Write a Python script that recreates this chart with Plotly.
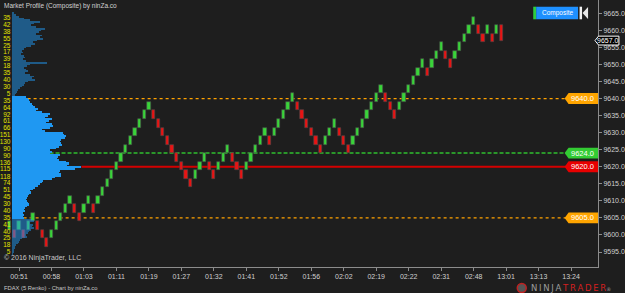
import plotly.graph_objects as go

# ---------------- DATA ----------------
brick_open = [9601.5, 9601.5, 9601.5, 9601.5, 9601.5, 9604, 9604, 9601.5, 9599, 9599,
              9601.5, 9604, 9606.5, 9609, 9609, 9606.5, 9606.5, 9609, 9609, 9609,
              9611.5, 9614, 9616.5, 9619, 9621.5, 9624, 9626.5, 9629, 9631.5, 9634,
              9636.5, 9636.5, 9634, 9631.5, 9629, 9626.5, 9624, 9621.5, 9619, 9616.5,
              9616.5, 9619, 9621.5, 9621.5, 9619, 9619, 9621.5, 9624, 9624, 9621.5,
              9619, 9619, 9621.5, 9624, 9626.5, 9629, 9629, 9629, 9631.5, 9634,
              9636.5, 9639, 9639, 9636.5, 9634, 9631.5, 9629, 9626.5, 9626.5, 9629,
              9631.5, 9631.5, 9629, 9626.5, 9626.5, 9629, 9631.5, 9634, 9636.5, 9639,
              9641.5, 9641.5, 9639, 9636.5, 9636.5, 9639, 9641.5, 9644, 9646.5, 9649,
              9649, 9649, 9651.5, 9654, 9654, 9651.5, 9651.5, 9654, 9656.5, 9659,
              9661.5, 9661.5, 9659, 9659, 9659, 9659, 9661.5]
brick_close = [9604, 9599, 9604, 9599, 9604, 9606.5, 9601.5, 9599, 9596.5, 9601.5,
               9604, 9606.5, 9609, 9611.5, 9606.5, 9604, 9609, 9611.5, 9606.5, 9611.5,
               9614, 9616.5, 9619, 9621.5, 9624, 9626.5, 9629, 9631.5, 9634, 9636.5,
               9639, 9634, 9631.5, 9629, 9626.5, 9624, 9621.5, 9619, 9616.5, 9614,
               9619, 9621.5, 9624, 9619, 9616.5, 9621.5, 9624, 9626.5, 9621.5, 9619,
               9616.5, 9621.5, 9624, 9626.5, 9629, 9631.5, 9626.5, 9631.5, 9634, 9636.5,
               9639, 9641.5, 9636.5, 9634, 9631.5, 9629, 9626.5, 9624, 9629, 9631.5,
               9634, 9629, 9626.5, 9624, 9629, 9631.5, 9634, 9636.5, 9639, 9641.5,
               9644, 9639, 9636.5, 9634, 9639, 9641.5, 9644, 9646.5, 9649, 9651.5,
               9646.5, 9651.5, 9654, 9656.5, 9651.5, 9649, 9654, 9656.5, 9659, 9661.5,
               9664, 9659, 9656.5, 9661.5, 9656.5, 9661.5, 9657]

time_labels = ["00:51", "00:58", "01:03", "01:11", "01:19", "01:27", "01:32", "01:41",
               "01:52", "01:56", "02:02", "02:19", "02:22", "02:31", "02:48", "13:01",
               "13:13", "13:24"]

# market profile (volume per 0.5-point row, from top price downward)
profile_top = 9665.0
profile_tick = 0.5
profile_volume = [2, 4, 7, 12, 18, 28, 22, 19, 24, 33,
                  29, 27, 24, 30, 28, 31, 25, 21, 23, 19,
                  14, 12, 10, 11, 9, 12, 13, 11, 14, 35,
                  18, 15, 12, 14, 16, 13, 18, 22, 20, 23,
                  16, 13, 12, 10, 8, 6, 5, 4, 3,
                  14, 16, 17, 18, 20, 21, 23, 26, 24, 30,
                  38, 36, 33, 40, 37, 34, 40, 41, 38, 30,
                  33, 52, 53, 55, 54, 50, 48, 49, 51, 47,
                  44, 38, 40, 38, 48, 46, 45, 47, 55, 58,
                  56, 70, 64, 48, 47, 50, 49, 43, 40, 31,
                  30, 28, 26, 23, 21, 18, 19, 17, 16, 15,
                  14, 15, 16, 17, 15, 13, 12, 13, 11, 12, 11, 12,
                  20, 22, 18, 21, 20, 22, 19, 17, 16, 14,
                  15, 10, 8, 7, 6, 4, 3, 3, 2, 2, 1]
value_area_high = 9640.5
value_area_low = 9605.0

count_prices = [9663.5, 9661.5, 9659.5, 9657.4, 9655.4, 9653.4, 9651.4, 9649.4, 9647.3, 9645.3,
                9643.3, 9641.3, 9639.3, 9637.2, 9635.2, 9633.2, 9631.2, 9629.2, 9627.1, 9625.1,
                9623.1, 9621.1, 9619.1, 9617.0, 9615.0, 9613.0, 9611.0, 9609.0, 9606.9, 9604.9,
                9602.9, 9600.9, 9598.9, 9596.8, 9594.8]
count_values = [35, 42, 38, 55, 25, 17, 39, 18, 35, 40, 30, 5, 35, 64, 92, 61, 66, 151,
                130, 90, 90, 136, 115, 118, 74, 51, 45, 30, 40, 35, 41, 40, 25, 18, 5]

level_prices = [9640.0, 9624.0, 9620.0, 9605.0]
level_colors = ["#ffa200", "#2fbf2f", "#d40000", "#ffa200"]
level_tag_colors = ["#ffa500", "#33cc33", "#e80000", "#ffa500"]
level_dash = ["dot", "4px,2px", "solid", "dot"]
level_width = [1.2, 1.5, 2, 1.2]
last_price = 9657.0

# ---------------- FIGURE ----------------
n = len(brick_open)
xs = list(range(n))
heights = [c - o for o, c in zip(brick_open, brick_close)]
bcolors = ["#3ad43a" if c > o else "#e81414" for o, c in zip(brick_open, brick_close)]

prof_prices = [profile_top - profile_tick * i for i in range(len(profile_volume))]
prof_colors = ["#1f98f2" if value_area_low <= p <= value_area_high else "rgba(31,152,242,0.5)"
               for p in prof_prices]
vol_at = dict(zip(prof_prices, profile_volume))

fig = go.Figure()
fig.add_trace(go.Bar(x=xs, y=heights, base=brick_open, width=0.7,
                     marker=dict(color=bcolors, line=dict(color="#4a4a4a", width=0.6)),
                     hoverinfo="skip"))
fig.add_trace(go.Bar(x=profile_volume, y=prof_prices, orientation="h", width=profile_tick,
                     xaxis="x2", yaxis="y", base=0,
                     marker=dict(color=prof_colors, line=dict(width=0)), hoverinfo="skip"))
fig.add_trace(go.Scatter(x=[-1.2] * len(count_prices), y=count_prices, xaxis="x2", yaxis="y",
                         mode="text", text=[str(v) for v in count_values],
                         textposition="middle left",
                         textfont=dict(size=6.5, color="#e2e200", family="Liberation Sans"),
                         hoverinfo="skip"))

shapes = []
annotations = []
X_PX = 600.0
for p, c, tc, d, w in zip(level_prices, level_colors, level_tag_colors, level_dash, level_width):
    x0 = vol_at.get(p, 0)
    shapes.append(dict(type="line", xref="x2", yref="y", x0=x0, x1=556, y0=p, y1=p,
                       line=dict(color=c, width=w, dash=d), layer="below"))
    hh = 1.6
    path = (f"M {566.5/X_PX},{p} L {570.5/X_PX},{p+hh} L 1.0,{p+hh} "
            f"L 1.0,{p-hh} L {570.5/X_PX},{p-hh} Z")
    shapes.append(dict(type="path", xref="paper", yref="y", path=path,
                       fillcolor=tc, line=dict(width=0), layer="above"))
    annotations.append(dict(x=584.5/X_PX, y=p, xref="paper", yref="y", text=f"{p:.1f}",
                            showarrow=False, font=dict(size=7.5, color="white", family="Liberation Sans"),
                            xanchor="center", yanchor="middle"))

# last price tag
hh = 1.3
path = (f"M {597/X_PX},{last_price} L {600.5/X_PX},{last_price+hh} L {621/X_PX},{last_price+hh} "
        f"L {621/X_PX},{last_price-hh} L {600.5/X_PX},{last_price-hh} Z")
shapes.append(dict(type="path", xref="paper", yref="y", path=path, fillcolor="black",
                   line=dict(color="white", width=1), layer="above"))
annotations.append(dict(x=610.5/X_PX, y=last_price, xref="paper", yref="y", text=f"{last_price:.1f}",
                        showarrow=False, font=dict(size=7, color="white", family="Liberation Sans"),
                        xanchor="center", yanchor="middle"))

# composite button (paper coords; plot area 600 x 267 px)
H = 267.0
def py(v):
    return (H - v) / H
shapes.append(dict(type="rect", xref="paper", yref="paper", x0=535/X_PX, x1=538/X_PX,
                   y0=py(19.3), y1=py(6.7), fillcolor="#2ecc40", line=dict(width=0)))
shapes.append(dict(type="rect", xref="paper", yref="paper", x0=538/X_PX, x1=580/X_PX,
                   y0=py(19.3), y1=py(6.7), fillcolor="#1e90ff", line=dict(width=0)))
shapes.append(dict(type="rect", xref="paper", yref="paper", x0=581.5/X_PX, x1=584/X_PX,
                   y0=py(19.3), y1=py(6.7), fillcolor="#f0f0f0", line=dict(width=0)))
shapes.append(dict(type="path", xref="paper", yref="paper",
                   path=f"M {584.5/X_PX},{py(13)} L {590/X_PX},{py(7)} L {590/X_PX},{py(19)} Z",
                   fillcolor="#e8e8e8", line=dict(width=0)))
annotations.append(dict(x=559/X_PX, y=py(13), xref="paper", yref="paper", text="Composite",
                        showarrow=False, font=dict(size=6.5, color="white", family="Liberation Sans"),
                        xanchor="center", yanchor="middle"))

annotations.append(dict(x=2/X_PX, y=py(5.5), xref="paper", yref="paper",
                        text="Market Profile (Composite) by ninZa.co", showarrow=False,
                        font=dict(size=6.5, color="#d2d2d2", family="Liberation Sans"),
                        xanchor="left", yanchor="middle"))
annotations.append(dict(x=2/X_PX, y=py(258), xref="paper", yref="paper",
                        text="© 2016 NinjaTrader, LLC", showarrow=False,
                        font=dict(size=7, color="#c8c8c8", family="Liberation Sans"),
                        xanchor="left", yanchor="middle"))
annotations.append(dict(x=2/X_PX, y=py(287.5), xref="paper", yref="paper",
                        text="FDAX (5 Renko) - Chart by ninZa.co", showarrow=False,
                        font=dict(size=5.8, color="#c8c8c8", family="Liberation Sans"),
                        xanchor="left", yanchor="middle"))
annotations.append(dict(x=531/X_PX, y=py(288), xref="paper", yref="paper",
                        text=("<span style='color:#9a9a9a'>N\u2009I\u2009N\u2009J\u2009A\u2009</span>"
                              "<span style='color:#d42020'>T\u2009R\u2009A\u2009D\u2009E\u2009R</span>"
                              "<span style='color:#9a9a9a;font-size:5px'>®</span>"),
                        showarrow=False, font=dict(size=8.5, family="DejaVu Sans"),
                        xanchor="left", yanchor="middle"))
shapes.append(dict(type="circle", xref="paper", yref="paper", x0=519/X_PX, x1=528/X_PX,
                   y0=py(292.5), y1=py(283.5), line=dict(color="#c02020", width=1.5),
                   fillcolor="#555555"))

tickvals = [2 + 7 * i for i in range(len(time_labels))]

fig.update_layout(
    width=625, height=293,
    margin=dict(l=0, r=25, t=0, b=26),
    paper_bgcolor="#1e1e1e", plot_bgcolor="#1e1e1e",
    showlegend=False, barmode="overlay", bargap=0, hovermode=False,
    font=dict(family="Liberation Sans", color="#d0d0d0"),
    xaxis=dict(range=[-2.1, 126.8], tickmode="array", tickvals=tickvals, ticktext=time_labels,
               showgrid=False, zeroline=False, showline=True, linecolor="#8c8c8c", linewidth=1,
               ticks="outside", ticklen=3, tickcolor="#8c8c8c",
               tickfont=dict(size=7, color="#d0d0d0")),
    yaxis=dict(side="right", range=[9590.6, 9668.9], tick0=9595, dtick=5, tickformat=".1f",
               showgrid=False, zeroline=False, showline=True, linecolor="#8c8c8c", linewidth=1,
               ticks="outside", ticklen=3, tickcolor="#8c8c8c",
               tickfont=dict(size=7, color="#d0d0d0")),
    xaxis2=dict(overlaying="x", anchor="y", range=[-11.7, 588.3], visible=False),
    shapes=shapes, annotations=annotations,
)

fig.write_html("out.html")
